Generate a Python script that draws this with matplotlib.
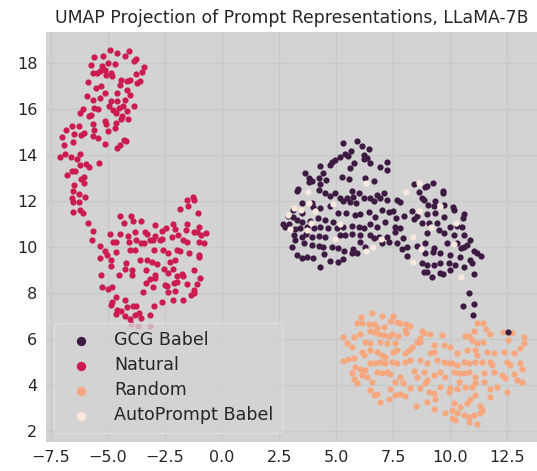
import numpy as np
import matplotlib
matplotlib.use("Agg")
import matplotlib.pyplot as plt

# points (x, y)
natural = [
    (-4.90, 18.55), (-4.60, 18.46), (-4.07, 18.54), (-5.59, 18.26), (-5.22, 18.29),
    (-5.74, 17.93), (-5.25, 17.88), (-5.00, 18.00), (-4.71, 17.96), (-4.24, 18.29),
    (-3.75, 18.17), (-3.87, 18.07), (-3.41, 17.81), (-3.50, 17.61), (-5.66, 17.57),
    (-5.49, 17.59), (-5.34, 17.64), (-5.12, 17.71), (-4.85, 17.59), (-5.07, 17.49),
    (-4.81, 17.42), (-3.78, 17.54), (-4.41, 17.28), (-4.04, 17.28), (-4.15, 17.20),
    (-3.60, 17.20), (-3.72, 17.13), (-5.88, 17.16), (-5.54, 16.91), (-5.29, 16.99),
    (-4.46, 17.06), (-4.16, 16.84), (-4.04, 16.62), (-5.15, 16.70), (-4.59, 16.70),
    (-5.91, 16.55), (-5.66, 16.41), (-5.37, 16.48), (-4.85, 16.33), (-4.59, 16.36),
    (-4.26, 16.41), (-3.85, 16.12), (-6.10, 16.01), (-5.63, 16.04), (-5.44, 16.00),
    (-4.96, 16.12), (-4.78, 15.97), (-4.53, 16.04), (-4.34, 16.12), (-6.22, 15.83),
    (-5.84, 15.71), (-5.74, 15.74), (-4.66, 15.83), (-4.16, 15.90), (-4.38, 15.68),
    (-4.12, 15.57), (-4.41, 15.57), (-5.66, 15.35), (-5.15, 15.46), (-5.07, 15.35),
    (-4.66, 15.39), (-4.71, 15.17), (-6.59, 15.28), (-6.25, 15.25), (-6.84, 15.07),
    (-6.50, 14.93), (-6.18, 14.88), (-6.07, 14.96), (-5.62, 15.10), (-5.66, 14.81),
    (-5.44, 14.74), (-5.00, 15.03), (-4.29, 14.67), (-4.19, 14.62), (-7.03, 14.78),
    (-6.91, 14.45), (-6.54, 14.55), (-5.12, 14.49), (-4.49, 14.45), (-4.60, 14.30),
    (-7.10, 13.91), (-6.88, 14.06), (-6.62, 13.90), (-6.37, 13.83), (-6.21, 14.04),
    (-6.22, 13.58), (-5.96, 13.62), (-5.81, 13.46), (-5.40, 13.65), (-6.79, 13.12),
    (-6.59, 13.32), (-6.44, 13.29), (-6.18, 12.97), (-6.06, 13.03), (-6.47, 12.71),
    (-6.03, 12.78), (-6.51, 12.45), (-6.28, 12.32), (-6.59, 12.13), (-6.00, 12.16),
    (-6.54, 11.94), (-6.29, 11.94), (-6.54, 11.52), (-6.22, 11.62), (-6.09, 11.48),
    (-5.88, 11.04), (-5.66, 10.71), (-5.69, 10.29),
    (-1.54, 12.03), (-1.28, 12.17), (-1.22, 12.03), (-1.50, 11.77), (-1.84, 11.65),
    (-1.04, 11.48), (-4.46, 11.36), (-3.97, 11.33), (-4.29, 11.04), (-3.90, 11.12),
    (-3.53, 11.13), (-2.94, 10.96), (-2.46, 10.84), (-2.13, 11.00), (-1.54, 11.00),
    (-2.65, 10.70), (-2.06, 10.78), (-1.59, 10.75), (-0.99, 10.87), (-1.10, 10.64),
    (-0.69, 10.61), (-4.93, 10.58), (-4.49, 10.58), (-4.12, 10.46), (-3.82, 10.64),
    (-3.38, 10.67), (-3.31, 10.58), (-2.94, 10.46), (-2.65, 10.35), (-2.72, 10.29),
    (-2.21, 10.43), (-1.91, 10.51), (-1.69, 10.29), (-1.54, 10.22), (-1.25, 10.67),
    (-0.93, 10.54), (-1.03, 10.22), (-0.81, 10.17), (-4.78, 10.20), (-4.63, 10.20),
    (-4.07, 10.20), (-3.78, 10.29), (-3.53, 10.17), (-3.16, 10.32), (-3.01, 10.32),
    (-5.37, 10.06), (-5.15, 9.81), (-5.03, 9.67), (-4.66, 9.77), (-4.04, 9.88),
    (-3.82, 9.86), (-3.41, 10.17), (-2.97, 9.88), (-2.57, 9.88), (-2.35, 9.74),
    (-1.99, 9.88), (-1.84, 9.81), (-1.47, 9.74), (-1.03, 9.67), (-0.99, 9.57),
    (-5.34, 9.52), (-4.85, 9.45), (-4.22, 9.30), (-3.60, 9.45), (-3.31, 9.45),
    (-3.09, 9.35), (-2.87, 9.26), (-2.28, 9.35), (-2.06, 9.45), (-4.85, 9.16),
    (-4.26, 9.06), (-3.93, 8.99), (-3.35, 9.01), (-2.94, 8.80), (-2.54, 9.04),
    (-2.13, 9.04), (-1.76, 8.84), (-1.69, 8.72), (-1.25, 9.01), (-5.29, 8.80),
    (-4.53, 8.80), (-3.93, 8.80), (-3.34, 8.43), (-3.16, 8.61), (-2.94, 8.65),
    (-2.35, 8.87), (-1.99, 8.72), (-0.96, 8.65), (-5.25, 8.26), (-5.00, 8.17),
    (-4.81, 8.26), (-3.46, 8.03), (-3.01, 8.26), (-2.50, 8.36), (-2.43, 8.32),
    (-2.10, 8.43), (-1.99, 8.49), (-1.54, 8.39), (-1.25, 8.14), (-1.10, 8.41),
    (-1.22, 8.00), (-1.37, 7.90), (-2.35, 8.03), (-2.06, 8.07), (-4.63, 7.83),
    (-4.88, 7.49), (-4.81, 7.59), (-4.26, 7.68), (-3.90, 7.45), (-4.16, 7.39),
    (-3.75, 7.42), (-2.13, 7.68), (-2.65, 7.59), (-2.97, 7.42), (-1.69, 7.71),
    (-4.63, 7.10), (-4.41, 7.20), (-4.24, 6.99), (-3.82, 7.06), (-3.65, 7.13),
    (-4.04, 6.87), (-3.53, 6.91), (-3.16, 7.03), (-4.60, 7.28), (-3.97, 6.67),
    (-3.68, 6.58), (-3.16, 6.55),
]

gcg_babel = [
    (5.29, 14.51), (5.91, 14.59), (6.13, 14.41), (6.46, 14.26), (5.66, 14.17),
    (5.39, 14.04), (5.18, 13.93), (5.54, 13.97), (6.24, 14.00), (6.35, 13.88),
    (6.49, 13.64), (6.20, 13.81), (4.96, 13.78), (4.81, 13.68), (4.74, 13.57),
    (5.76, 13.64), (5.61, 13.45), (6.93, 13.49), (7.22, 13.71), (7.22, 13.35),
    (4.30, 13.52), (3.64, 13.20), (3.83, 12.99), (3.79, 12.84), (3.93, 12.87),
    (4.42, 13.20), (4.23, 12.99), (4.56, 12.91), (5.25, 13.06), (5.58, 12.94),
    (6.27, 13.01), (6.67, 12.87), (4.30, 12.74), (3.32, 12.51), (3.27, 12.43),
    (4.23, 12.48), (4.52, 12.33), (4.96, 12.36), (4.71, 12.22), (5.69, 12.43),
    (5.98, 12.33), (5.73, 12.19), (5.18, 12.12), (5.47, 12.14), (6.49, 12.14),
    (6.78, 12.26), (7.08, 12.33), (3.49, 11.93), (3.93, 11.90), (3.98, 11.72),
    (4.30, 11.68), (4.71, 11.78), (5.32, 12.00), (5.61, 11.97), (5.88, 11.93),
    (6.20, 12.12), (6.64, 12.01), (6.93, 12.12), (7.22, 12.04), (7.66, 12.04),
    (7.78, 11.97), (8.42, 12.74), (8.90, 12.62), (8.98, 12.65), (9.23, 12.77),
    (8.61, 12.41), (9.68, 12.43), (9.68, 12.33), (8.76, 12.12), (8.83, 12.04),
    (9.34, 12.01), (9.01, 11.83), (9.27, 11.78), (9.71, 11.83), (10.12, 11.75),
    (10.15, 11.61), (10.58, 11.42), (10.56, 11.25), (3.13, 11.61), (3.49, 11.49),
    (3.13, 11.29), (2.87, 11.36), (2.95, 11.00), (3.27, 11.17), (3.51, 11.10),
    (3.86, 11.14), (4.20, 11.25), (4.52, 11.17), (4.88, 11.10), (5.10, 11.49),
    (5.44, 11.49), (5.83, 11.39), (6.05, 11.43), (6.45, 11.54), (6.71, 11.32),
    (7.00, 11.61), (7.30, 11.51), (7.47, 11.57), (7.63, 11.28), (7.98, 11.35),
    (8.32, 11.58), (8.39, 11.23), (8.54, 11.35), (8.98, 11.43), (9.34, 11.46),
    (9.71, 11.29), (2.69, 11.00), (2.76, 10.88), (3.20, 10.77), (3.42, 10.81),
    (3.71, 10.88), (4.01, 10.84), (4.30, 10.86), (4.66, 10.81), (5.03, 10.81),
    (5.32, 10.88), (5.69, 10.91), (5.98, 10.88), (6.20, 10.84), (6.49, 10.99),
    (6.78, 10.88), (7.15, 11.10), (7.59, 10.88), (7.81, 10.81), (8.76, 11.06),
    (9.05, 11.03), (9.42, 11.03), (10.00, 10.86), (10.29, 10.91), (10.51, 10.88),
    (3.16, 10.52), (3.49, 10.45), (3.68, 10.57), (3.93, 10.45), (4.23, 10.48),
    (4.52, 10.45), (5.18, 10.52), (5.39, 10.52), (5.69, 10.57), (6.05, 10.52),
    (6.49, 10.52), (6.64, 10.38), (6.86, 10.45), (7.22, 10.45), (7.59, 10.67),
    (7.92, 10.41), (8.98, 10.59), (9.49, 10.74), (9.71, 10.59), (10.15, 10.52),
    (10.58, 10.52), (10.88, 10.30), (3.20, 10.30), (3.57, 10.16), (3.93, 10.09),
    (4.23, 10.04), (4.44, 9.99), (4.81, 10.01), (5.10, 9.94), (5.35, 9.84),
    (5.73, 9.90), (6.05, 10.23), (6.27, 10.01), (7.00, 10.16), (7.30, 10.23),
    (7.66, 10.19), (8.10, 9.99), (8.54, 10.04), (8.90, 10.19), (9.27, 9.94),
    (9.85, 10.19), (10.29, 10.19), (10.47, 9.94), (10.61, 10.01), (10.73, 10.09),
    (11.02, 9.84), (3.06, 10.01), (3.27, 9.65), (3.49, 9.51), (3.71, 9.55),
    (3.98, 9.51), (4.47, 9.70), (4.74, 9.41), (5.10, 9.36), (5.29, 9.46),
    (5.69, 9.75), (5.91, 9.72), (7.88, 9.90), (8.10, 9.61), (8.90, 9.72),
    (9.23, 9.80), (9.56, 9.72), (10.00, 9.65), (10.44, 9.58), (10.88, 9.43),
    (11.35, 9.61), (11.17, 9.72), (4.30, 9.14), (8.76, 9.29), (8.98, 9.22),
    (9.27, 9.22), (9.56, 9.32), (9.93, 9.32), (10.22, 9.22), (10.58, 9.12),
    (10.95, 9.29), (11.02, 8.83), (8.83, 8.93), (8.98, 8.93), (9.20, 8.71),
    (9.53, 8.88), (9.68, 8.83), (10.00, 9.00), (10.80, 8.00), (10.56, 7.43),
    (11.02, 7.52), (11.00, 7.04), (12.51, 6.32),
]

autoprompt_babel = [
    (6.30, 12.77), (3.76, 12.41), (8.65, 12.77), (8.07, 12.38), (3.79, 11.93),
    (4.08, 11.57), (3.45, 11.61), (3.16, 11.68), (2.88, 11.39), (3.71, 10.74),
    (2.98, 10.78), (3.90, 11.03), (4.88, 11.87), (5.18, 10.99), (4.93, 10.33),
    (6.97, 10.33), (6.61, 10.01), (6.32, 9.81), (8.36, 10.42), (8.61, 11.58),
    (9.15, 10.88), (9.53, 11.78), (10.25, 11.06), (10.15, 10.13), (8.73, 9.91),
    (8.35, 9.35), (10.48, 8.71),
]

random_ = [
    (6.59, 7.12), (7.00, 7.01), (7.49, 7.01), (6.08, 6.94), (5.91, 6.68),
    (6.13, 6.71), (6.42, 6.64), (6.64, 6.65), (7.37, 6.80), (7.66, 6.75),
    (7.81, 6.71), (8.07, 6.65), (8.22, 6.57), (7.08, 6.54), (6.78, 6.46),
    (6.49, 6.36), (6.05, 6.20), (5.76, 6.10), (5.28, 6.10), (5.47, 5.84),
    (5.69, 5.64), (6.64, 6.29), (6.86, 6.22), (7.08, 6.17), (7.30, 6.13),
    (7.44, 6.20), (7.69, 6.13), (8.03, 6.39), (8.07, 6.25), (8.76, 6.36),
    (8.83, 6.28), (9.09, 6.20), (9.63, 6.17), (8.68, 6.03), (8.54, 5.88),
    (7.59, 5.84), (7.22, 5.81), (6.93, 5.88), (6.49, 5.81), (6.27, 5.88),
    (6.13, 5.45), (6.20, 5.30), (6.49, 5.52), (6.78, 5.45), (7.00, 5.30),
    (7.15, 5.23), (7.51, 5.45), (7.66, 5.52), (8.03, 5.38), (8.17, 5.52),
    (8.32, 5.67), (8.68, 5.88), (9.27, 5.74), (9.71, 5.74), (9.97, 5.67),
    (10.29, 5.38), (10.66, 6.13), (10.80, 6.13), (11.02, 6.36), (11.17, 6.71),
    (11.42, 6.68), (11.56, 6.42), (11.75, 6.20), (11.43, 5.88), (11.17, 5.81),
    (10.95, 5.96), (10.73, 5.52), (11.10, 5.52), (11.17, 5.30), (11.61, 5.45),
    (11.90, 5.41), (12.34, 5.45), (12.30, 6.29), (12.70, 6.25), (12.51, 5.96),
    (12.78, 5.41), (13.07, 5.59), (13.22, 5.84), (13.22, 6.10), (5.32, 5.06),
    (5.54, 5.12), (5.76, 5.16), (5.83, 4.80), (6.05, 4.68), (6.27, 4.65),
    (6.49, 4.94), (6.71, 4.94), (6.93, 5.01), (7.15, 4.97), (7.44, 5.01),
    (7.66, 4.94), (8.03, 5.01), (8.25, 5.09), (8.68, 5.09), (8.98, 4.94),
    (9.12, 5.38), (9.27, 5.45), (9.42, 5.09), (9.71, 5.01), (9.93, 4.94),
    (10.07, 4.94), (10.29, 4.87), (10.58, 5.01), (10.80, 4.94), (11.10, 5.01),
    (11.39, 5.01), (11.75, 5.01), (11.83, 4.87), (12.49, 5.01), (12.63, 4.87),
    (13.07, 4.94), (13.14, 4.68), (5.69, 4.51), (5.76, 4.25), (5.91, 4.07),
    (6.13, 4.43), (6.35, 4.33), (6.56, 4.14), (6.78, 4.58), (7.00, 4.51),
    (7.22, 4.58), (7.37, 4.48), (7.59, 4.14), (7.81, 4.36), (7.95, 4.07),
    (8.39, 4.61), (8.54, 4.36), (8.83, 4.58), (8.98, 4.22), (9.27, 4.43),
    (9.56, 4.58), (9.78, 4.36), (10.15, 4.58), (10.37, 4.51), (10.61, 4.54),
    (10.80, 4.58), (11.10, 4.36), (11.46, 4.51), (11.90, 4.58), (12.27, 4.43),
    (12.41, 4.29), (12.78, 4.48), (12.92, 4.22), (13.14, 4.14), (6.49, 3.78),
    (6.64, 3.57), (6.78, 3.61), (6.93, 3.28), (7.30, 3.38), (7.37, 3.81),
    (7.59, 3.57), (7.81, 3.61), (8.03, 3.52), (8.25, 3.86), (8.68, 3.86),
    (8.90, 4.07), (9.05, 3.71), (9.27, 3.64), (9.34, 3.38), (9.56, 3.90),
    (9.93, 3.71), (10.00, 3.86), (10.29, 3.81), (10.37, 4.14), (10.66, 3.90),
    (10.95, 3.90), (11.10, 4.07), (11.46, 4.14), (11.75, 3.81), (11.75, 3.49),
    (12.05, 3.90), (12.49, 3.71), (11.10, 3.57), (10.88, 3.38), (10.73, 3.20),
    (10.44, 3.03), (10.15, 3.20), (10.07, 2.91), (10.29, 2.77), (10.58, 2.70),
    (10.80, 2.62), (11.02, 2.70), (11.32, 2.77), (11.29, 3.09), (11.39, 2.91),
    (10.07, 2.55), (10.22, 2.48), (8.51, 3.09), (8.98, 3.28), (9.30, 2.94),
    (9.78, 2.77), (10.80, 2.41), (11.17, 2.30),
]

labels = ["GCG Babel", "Natural", "Random", "AutoPrompt Babel"]
colors = ["#3d1a42", "#cb1b4f", "#f6a77d", "#fbe8dc"]

plt.rcParams['font.family'] = ['DejaVu Sans']
fig = plt.figure(figsize=(5.37, 4.71), dpi=100)
ax = fig.add_axes([0.085, 0.062, 0.915, 0.869])
ax.set_facecolor('#d3d3d3')
for s in ax.spines.values():
    s.set_visible(False)
ax.grid(True, color='#c8c8c8', linewidth=0.9)
ax.set_axisbelow(True)

groups = {"GCG Babel": gcg_babel, "Natural": natural,
          "Random": random_, "AutoPrompt Babel": autoprompt_babel}
order = ["Random", "Natural", "GCG Babel", "AutoPrompt Babel"]
handles = {}
for name in order:
    pts = np.array(groups[name])
    c = colors[labels.index(name)]
    handles[name] = ax.scatter(pts[:, 0], pts[:, 1], s=20, color=c,
                               linewidths=0, label=name)

ax.set_xlim(-7.73, 13.8)
ax.set_ylim(1.53, 19.33)
ax.set_xticks([-7.5, -5.0, -2.5, 0.0, 2.5, 5.0, 7.5, 10.0, 12.5])
ax.set_yticks([2, 4, 6, 8, 10, 12, 14, 16, 18])
ax.tick_params(length=0, labelsize=11.5, colors='#262626', pad=6)
ax.set_title("UMAP Projection of Prompt Representations, LLaMA-7B",
             fontsize=12.4, color='#262626', pad=7)

leg = ax.legend([handles[n] for n in labels], labels, loc='lower left',
                fontsize=12.6, markerscale=1.5, facecolor='#d3d3d3',
                edgecolor='#e2e2e2', framealpha=0.8, handletextpad=0.9,
                borderpad=0.5, labelspacing=0.4)
for t in leg.get_texts():
    t.set_color('#262626')

fig.savefig("out.png", dpi=100)
